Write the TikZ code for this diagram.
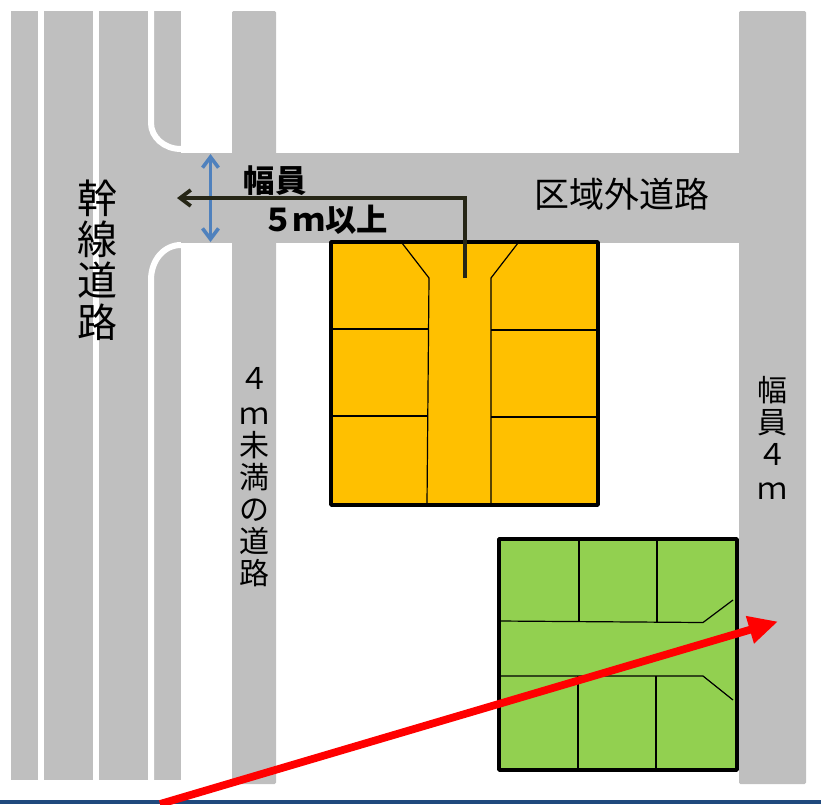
\documentclass[tikz,border=0pt]{standalone}
\usepackage{fontspec}
\newfontfamily\jpfont{Noto Sans CJK JP}
\usetikzlibrary{arrows.meta}
\definecolor{roadgray}{HTML}{BFBFBF}
\definecolor{lotorange}{HTML}{FFC000}
\definecolor{lotgreen}{HTML}{92D050}
\definecolor{darkline}{HTML}{262616}
\definecolor{widthblue}{HTML}{4F81BD}
\definecolor{barblue}{HTML}{1F497D}
\tikzset{
  road/.style={fill=roadgray,draw=none},
  lane/.style={draw=white,line width=4.5pt},
  lot/.style={draw=black,line width=2.8pt,line join=round},
  parcel/.style={draw=black,line width=0.9pt},
  label/.style={font=\jpfont,inner sep=0pt,align=center},
}
\begin{document}
\begin{tikzpicture}[x=0.75pt,y=-0.75pt]
\useasboundingbox (0,0) rectangle (821,804);
% roads
\fill [road] (11,11) rectangle (181,780);
\fill [road,rounded corners=1pt] (232,11) rectangle (276,784);
\fill [road,rounded corners=1pt] (739,11) rectangle (806,784);
\fill [road] (181,153) rectangle (739,243);
\draw [lane] (41,11) -- (41,780);
\draw [lane] (96,11) -- (96,780);
\draw [lane] (151,11) -- (151,123) .. controls (151,137) and (164,149) .. (181,149);
\draw [lane] (151,780) -- (151,280) .. controls (151,260) and (164,245) .. (181,245);
% bottom bar
\fill [barblue] (0,800) rectangle (821,804);
% orange block
\draw [lot,fill=lotorange] (331,242) rectangle (598,505);
\draw [parcel] (402,243) -- (429,278) -- (427,504);
\draw [parcel] (518,243) -- (491,278) -- (491,504);
\draw [parcel] (332,329) -- (428,329);
\draw [parcel] (332,416) -- (428,416);
\draw [parcel] (491,330) -- (597,330);
\draw [parcel] (491,417) -- (597,417);
% green block
\draw [lot,fill=lotgreen] (499,539) rectangle (737,770);
\draw [lot,line width=3.6pt] (737,539) -- (737,770);
\draw [parcel] (499,621) -- (703,622.5) -- (733,600);
\draw [parcel] (499,676) -- (703,676) -- (733,700);
\draw [parcel] (579,540) -- (579,621);
\draw [parcel] (657,540) -- (657,622);
\draw [parcel] (578,676) -- (578,769);
\draw [parcel] (656,676) -- (656,769);
% arrows
\coordinate (wtop) at (210.5,154);
\coordinate (wbot) at (210.5,242);
\coordinate (ptail) at (465,278);
\coordinate (pcorner) at (465,198);
\coordinate (phead) at (177,198);
\coordinate (rtail) at (160,804);
\coordinate (rhead) at (778,621.5);
\draw [{Straight Barb[length=8pt,width=12pt]}-{Straight Barb[length=8pt,width=12pt]},widthblue,line width=2.7pt] (wtop) -- (wbot);
\draw [-{Straight Barb[length=8pt,width=12pt]},darkline,line width=2.8pt] (ptail) -- (pcorner) -- (phead);
\draw [-{Triangle[length=22pt,width=20pt]},red,line width=5.8pt] (rtail) -- (rhead);
% labels
\node [label,font=\jpfont\fontsize{30pt}{31pt}\selectfont] (trunk) at (97,260) {幹\\線\\道\\路};
\node [label,font=\jpfont\fontsize{22.5pt}{24pt}\selectfont] (narrow) at (254,477) {４\\[2pt]ｍ\\未\\満\\の\\道\\路};
\node [label,font=\jpfont\fontsize{22.5pt}{24pt}\selectfont] (rightw) at (772,438) {幅\\員\\４\\[2pt]ｍ};
\node [label,font=\jpfont\bfseries\fontsize{23.5pt}{24pt}\selectfont] (wa) at (275,181) {幅員};
\node [label,font=\jpfont\bfseries\fontsize{23.5pt}{24pt}\selectfont] (wb) at (325,220) {５ｍ以上};
\node [label,font=\jpfont\fontsize{26.2pt}{27pt}\selectfont] (outer) at (622,194) {区域外道路};
\end{tikzpicture}
\end{document}
